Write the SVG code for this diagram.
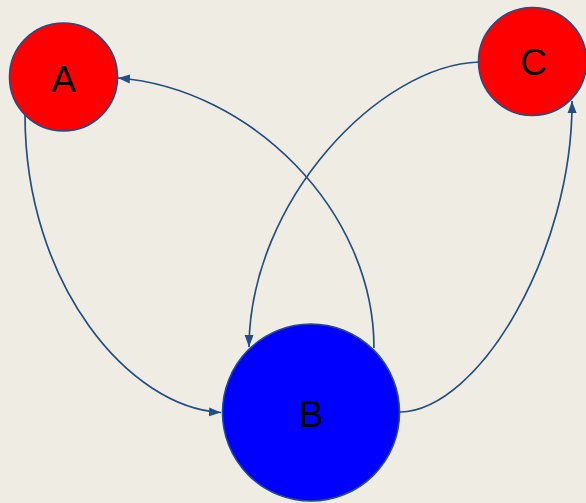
<svg xmlns="http://www.w3.org/2000/svg" width="586" height="503" viewBox="0 0 586 503">
<defs>
<style>
.node circle{stroke:#234d84;stroke-width:1.6}
.node text{font-family:"Liberation Sans",Arial,sans-serif;font-size:37px;fill:#000;text-anchor:middle}
.edge{fill:none;stroke:#234d84;stroke-width:1.7;marker-end:url(#arr)}
</style>
<marker id="arr" markerUnits="userSpaceOnUse" markerWidth="13" markerHeight="10" refX="12" refY="4.5" orient="auto" viewBox="0 0 13 9">
<path d="M0,0 L12,4.5 L0,9 z" fill="#234d84"/>
</marker>
</defs>
<rect width="586" height="503" fill="#efede3"/>
<g id="connectors">
<path class="edge" d="M25,115 C25,285 130,408 221,412.5"/>
<path class="edge" d="M374,348 C374,210 250,88 118,78"/>
<path class="edge" d="M479,62 C380,65 250,200 249,347"/>
<path class="edge" d="M400,412 C480,410 573,250 572,101"/>
</g>
<g id="node-A" class="node">
<circle cx="63.5" cy="77" r="54" fill="#ff0000"/>
<text x="63.5" y="92">A</text>
</g>
<g id="node-B" class="node">
<circle cx="311" cy="412.5" r="88.5" fill="#0000ff"/>
<text x="311" y="426.5">B</text>
</g>
<g id="node-C" class="node">
<circle cx="532.5" cy="61.5" r="54" fill="#ff0000"/>
<text x="533.5" y="75">C</text>
</g>
</svg>
